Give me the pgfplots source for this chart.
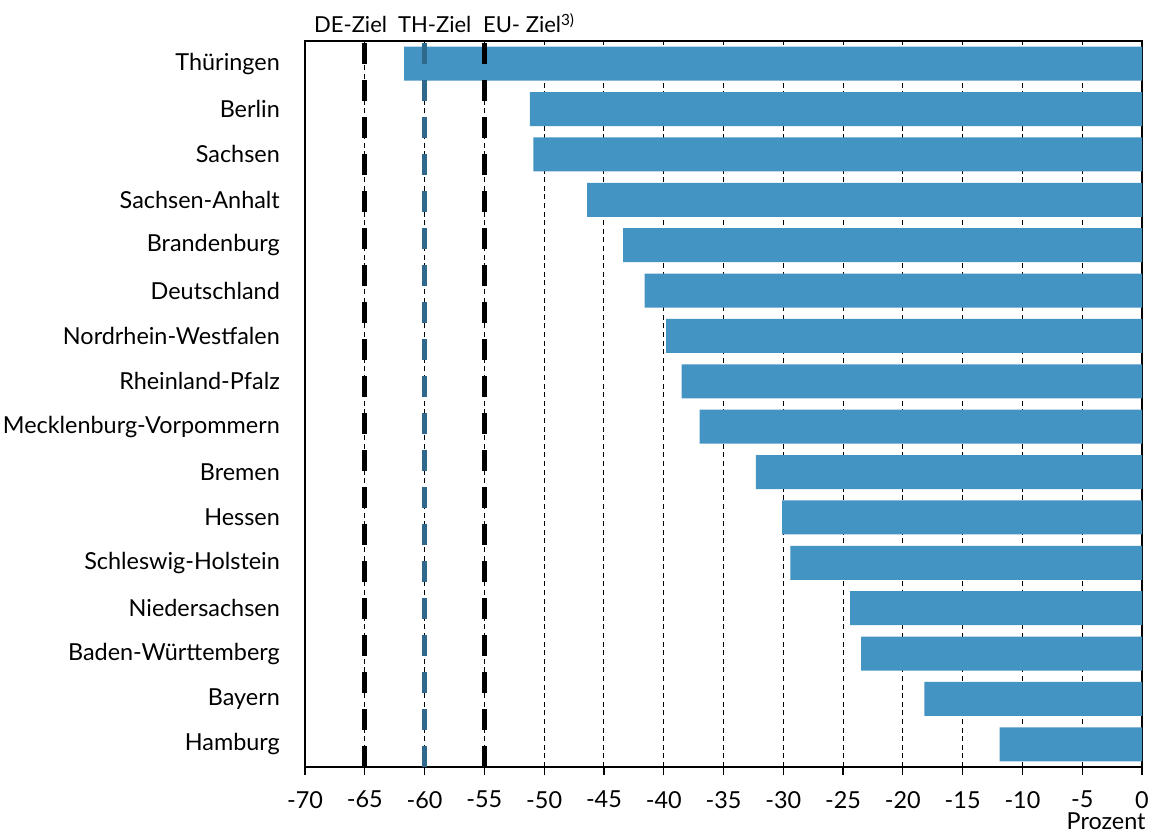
\documentclass[border=0pt]{standalone}
\usepackage{fontspec}
\setmainfont{Lato}
\usepackage{pgfplots}
\pgfplotsset{compat=1.18}
\definecolor{barblue}{HTML}{4394C3}
\definecolor{thblue}{HTML}{2F6A8C}
\begin{document}
\fontsize{11.7pt}{13pt}\selectfont
\begin{tikzpicture}
\useasboundingbox (-152.5pt,-33.5pt) rectangle (422.5pt,383.5pt);
\begin{axis}[
  scale only axis,
  width=418.5pt, height=363pt,
  xmin=-70, xmax=0, ymin=-0.5, ymax=15.5,
  xbar, bar width=0.75,
  xtick={-70,-65,...,0},
  xticklabels={-70,-65,-60,-55,-50,-45,-40,-35,-30,-25,-20,-15,-10,-5,0},
  ytick={0,...,15},
  yticklabels={Hamburg,Bayern,Baden-Württemberg,Niedersachsen,Schleswig-Holstein,Hessen,Bremen,Mecklenburg-Vorpommern,Rheinland-Pfalz,Nordrhein-Westfalen,Deutschland,Brandenburg,Sachsen-Anhalt,Sachsen,Berlin,Thüringen},
  tick label style={font=\fontsize{11.7pt}{13pt}\selectfont},
  y tick label style={xshift=-4.5pt},
  x tick label style={yshift=-4pt},
  ytick style={draw=none},
  xtick pos=bottom,
  xtick align=outside,
  major tick length=4pt,
  x tick style={black, line width=0.6pt},
  xmajorgrids,
  grid style={black, line width=0.5pt, dash pattern=on 2.5pt off 1.8pt},
  axis line style={black, line width=0.8pt},
  xlabel={Prozent},
  xlabel style={at={(rel axis cs:1,0)}, anchor=north east, yshift=-22.5pt, xshift=2pt, inner sep=0pt},
  clip=false,
  axis on top=false,
]
\addplot[draw=none, fill=barblue] coordinates {
(-11.9,0) (-18.2,1) (-23.5,2) (-24.4,3) (-29.4,4) (-30.1,5) (-32.3,6) (-37.0,7)
(-38.5,8) (-39.8,9) (-41.6,10) (-43.4,11) (-46.4,12) (-50.9,13) (-51.2,14) (-61.7,15)
};
\addplot[sharp plot, black, line width=2.6pt, dash pattern=on 10.5pt off 8pt, forget plot] coordinates {(-65,-0.5) (-65,15.5)};
\addplot[sharp plot, thblue, line width=2.6pt, dash pattern=on 10.5pt off 8pt, forget plot] coordinates {(-60,-0.5) (-60,15.5)};
\addplot[sharp plot, black, line width=2.6pt, dash pattern=on 10.5pt off 8pt, forget plot] coordinates {(-55,-0.5) (-55,15.5)};
\node[anchor=base west, inner sep=0pt, font=\fontsize{11pt}{13pt}\selectfont] at (axis cs:-69.26,15.5) [yshift=4pt] {DE-Ziel};
\node[anchor=base west, inner sep=0pt, font=\fontsize{11pt}{13pt}\selectfont] at (axis cs:-62.24,15.5) [yshift=4pt] {TH-Ziel};
\node[anchor=base west, inner sep=0pt, font=\fontsize{11pt}{13pt}\selectfont] at (axis cs:-55.14,15.5) [yshift=4pt] {EU- Ziel\textsuperscript{3)}};
\end{axis}
\end{tikzpicture}
\end{document}
